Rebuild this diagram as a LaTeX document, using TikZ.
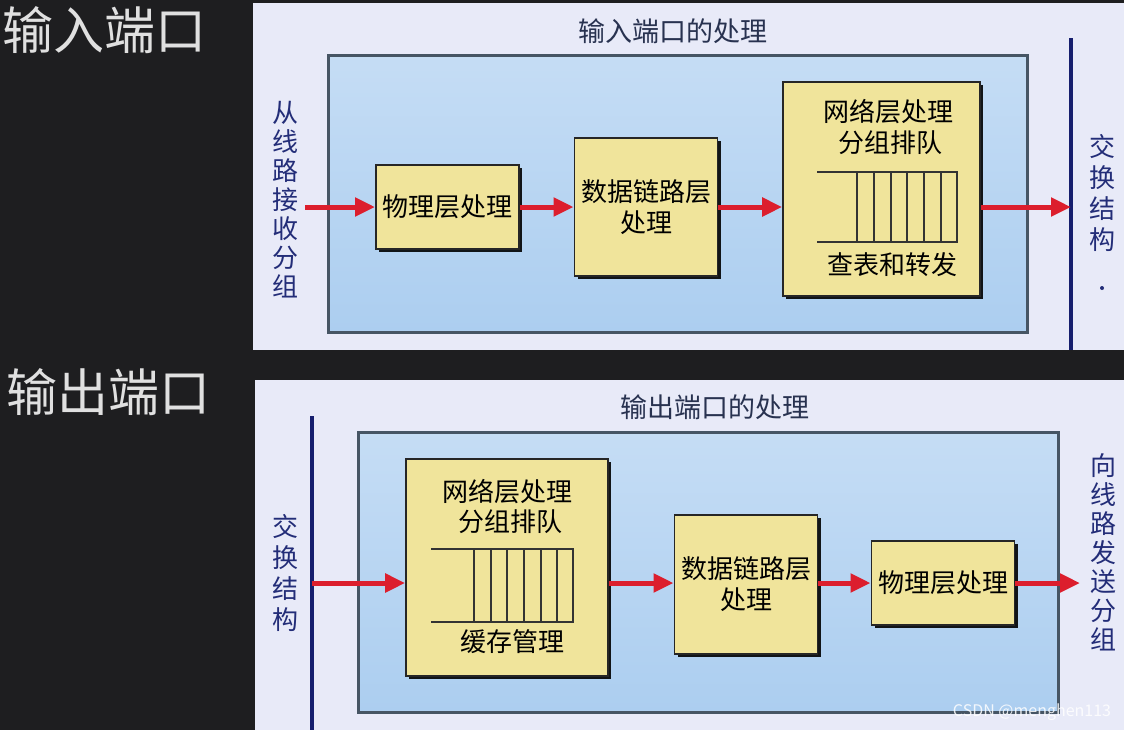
\documentclass[tikz,border=0pt]{standalone}
\usepackage{fontspec}
\setmainfont{Noto Sans CJK SC}
\usetikzlibrary{arrows.meta,shadows}

\definecolor{slide}{RGB}{30,30,32}
\definecolor{panel}{RGB}{232,234,248}
\definecolor{procfill}{RGB}{172,206,240}
\definecolor{procedge}{RGB}{70,85,100}
\definecolor{boxfill}{RGB}{240,228,155}
\definecolor{fabric}{RGB}{22,30,110}
\definecolor{flowred}{RGB}{220,30,45}
\definecolor{sidetext}{RGB}{35,45,120}
\definecolor{headtext}{RGB}{40,50,80}

\begin{document}
\begin{tikzpicture}[x=0.5pt, y=-0.5pt,
    stage/.style={draw=black!85, line width=0.8pt, fill=boxfill, align=center,
      font=\fontsize{13}{15.5}\selectfont,
      drop shadow={shadow xshift=1.6pt, shadow yshift=-1.6pt, fill=black, opacity=0.9}},
    flow/.style={draw=flowred, line width=2.5pt, -{Triangle[length=10pt,width=9pt]}},
    side/.style={text=sidetext, align=center, font=\fontsize{13}{14.5}\selectfont},
    head/.style={text=headtext, font=\fontsize{13.5}{16}\selectfont},
    queue/.style={draw=black!80, line width=0.8pt}]

  % background
  \fill[slide] (0,0) rectangle (1124,730);
  \useasboundingbox (0,0) rectangle (1124,730);
  \fill[panel] (253,3) rectangle (1124,350);
  \fill[panel] (255,380) rectangle (1124,730);

  \node[text=black!12, font=\fontsize{25.5}{28}\selectfont] (intitle) at (105,30) {输入端口};
  \node[text=black!12, font=\fontsize{25.5}{28}\selectfont] (outtitle) at (108,392) {输出端口};

  % input port
  \node[head] (inhead) at (673,31) {输入端口的处理};
  \draw[procedge, line width=1.5pt, top color=procfill!70!white, bottom color=procfill] (328,55) rectangle (1027,332);
  \draw[fabric, line width=2.3pt] (1071,38) coordinate (fab1) -- (1071,350);
  \node[side] (rxlabel) at (285,200) {从\\线\\路\\接\\收\\分\\组};
  \node[side, font=\fontsize{13}{15.5}\selectfont] (sw1label) at (1102,193) {交\\换\\结\\构};
  \fill[sidetext] (1102,288) circle (1pt);

  \node[stage, minimum width=71.5pt, minimum height=42pt] (phy1) at (447.5,207) {物理层处理};
  \node[stage, minimum width=70pt, minimum height=69pt] (link1) at (646,207) {数据链路层\\处理};
  \node[stage, minimum width=98.5pt, minimum height=107pt] (net1) at (881.5,189) {};
  \node (net1a) at (888,112) {\fontsize{13}{15}\selectfont 网络层处理};
  \node (net1b) at (890,143) {\fontsize{13}{15}\selectfont 分组排队};
  \node (net1c) at (892,265) {\fontsize{13}{15}\selectfont 查表和转发};
  \draw[queue] (817,172) -- (957,172) -- (957,242) -- (817,242);
  \foreach \qx in {857,874,891,907,924,941}
    \draw[queue] (\qx,172) -- (\qx,242);

  \coordinate (rx) at (305,207);
  \draw[flow] (rx) -- (phy1);
  \draw[flow] (phy1) -- (link1);
  \draw[flow] (link1) -- (link1 -| net1.west);
  \draw[flow] (net1.east |- link1) -- (link1 -| fab1);

  % output port
  \node[head] (outhead) at (715,407) {输出端口的处理};
  \draw[procedge, line width=1.5pt, top color=procfill!70!white, bottom color=procfill] (358,432) rectangle (1058,712);
  \draw[fabric, line width=2.3pt] (312,416) coordinate (fab2) -- (312,730);
  \node[side, font=\fontsize{13}{15.5}\selectfont] (sw2label) at (285,573) {交\\换\\结\\构};
  \node[side] (txlabel) at (1103,552) {向\\线\\路\\发\\送\\分\\组};

  \node[stage, minimum width=101pt, minimum height=108.5pt] (net2) at (507,567.5) {};
  \node (net2a) at (507,492) {\fontsize{13}{15}\selectfont 网络层处理};
  \node (net2b) at (510,522) {\fontsize{13}{15}\selectfont 分组排队};
  \node (net2c) at (512,642) {\fontsize{13}{15}\selectfont 缓存管理};
  \draw[queue] (431,549) -- (573,549) -- (573,622) -- (431,622);
  \foreach \qx in {474,491,507,524,541,557}
    \draw[queue] (\qx,549) -- (\qx,622);
  \node[stage, minimum width=70pt, minimum height=69.5pt] (link2) at (746,584.5) {数据链路层\\处理};
  \node[stage, minimum width=70pt, minimum height=42pt] (phy2) at (943,583) {物理层处理};

  \coordinate (tx) at (1080,583);
  \draw[flow] (fab2 |- phy2) -- (net2.west |- phy2);
  \draw[flow] (net2.east |- phy2) -- (link2.west |- phy2);
  \draw[flow] (link2.east |- phy2) -- (phy2);
  \draw[flow] (phy2) -- (tx);

  \node[text=white, opacity=0.85, font=\fontsize{8}{10}\selectfont] (mark) at (1032,712) {CSDN @menghen113};
\end{tikzpicture}
\end{document}
